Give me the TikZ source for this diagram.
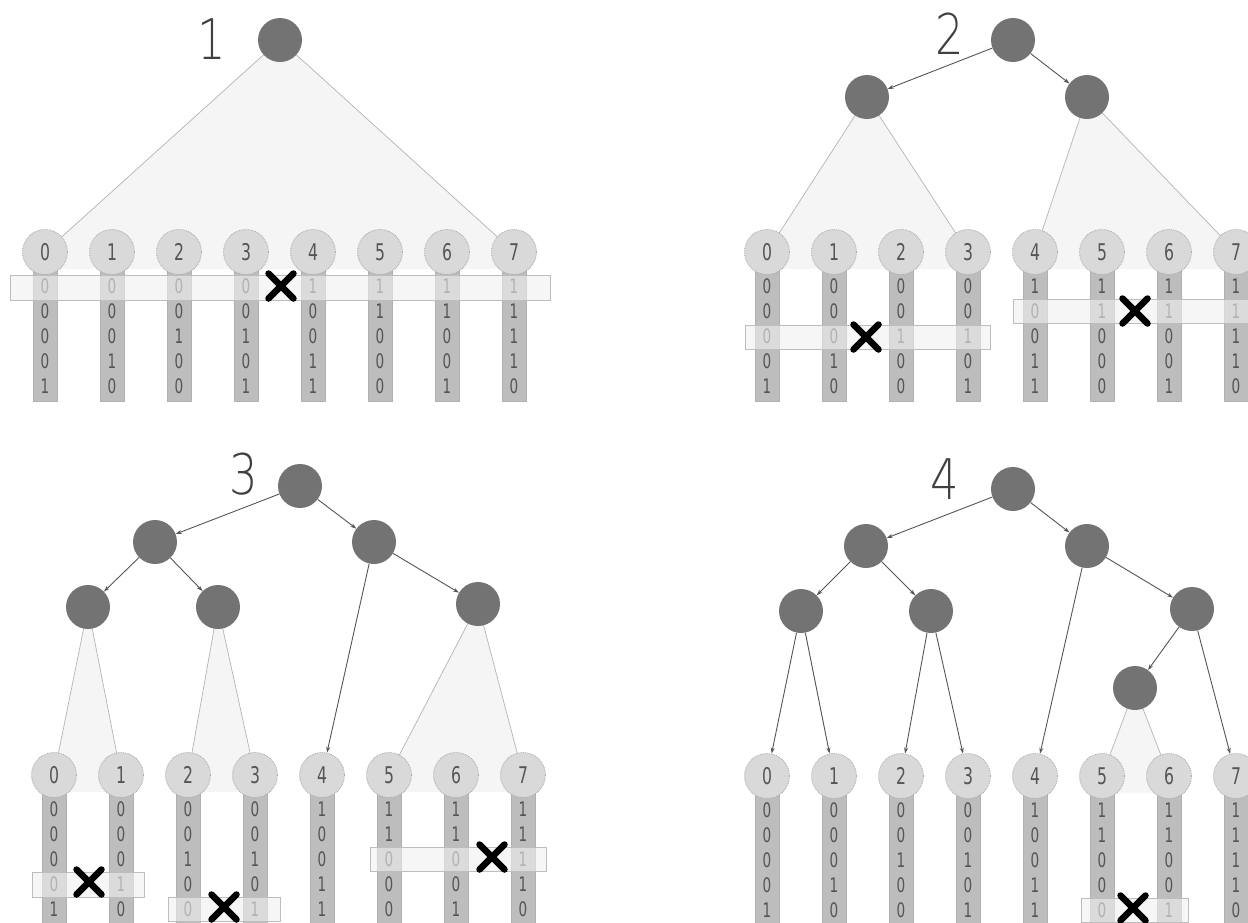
\documentclass[tikz,border=0pt]{standalone}
\usepackage{fontspec}
\usetikzlibrary{arrows.meta}
\setmainfont{DejaVu Sans}
\newfontfamily\digf{DejaVu Sans}[FakeStretch=0.68]
\IfFontExistsTF{DejaVuSans-ExtraLight.ttf}%
  {\newfontfamily\bigf{DejaVuSans-ExtraLight.ttf}[FakeStretch=0.8]}%
  {\newfontfamily\bigf{DejaVu Sans}[FakeStretch=0.8]}
\pgfdeclarelayer{bg}
\pgfsetlayers{bg,main}
\definecolor{nodegray}{HTML}{737373}
\definecolor{leafgray}{HTML}{D9D9D9}
\definecolor{leafline}{HTML}{A8A8A8}
\definecolor{barg}{HTML}{BDBDBD}
\definecolor{barline}{HTML}{B0B0B0}
\definecolor{txtg}{HTML}{555555}
\definecolor{trifill}{HTML}{F5F5F5}
\definecolor{triline}{HTML}{B4B4B4}
\definecolor{arrg}{HTML}{555555}
\definecolor{bandf}{HTML}{F0F0F0}
\definecolor{bandl}{HTML}{BDBDBD}
\tikzset{
  dark/.style={circle, fill=nodegray, minimum size=44pt, inner sep=0pt},
  leaf/.style={circle, fill=leafgray, draw=leafline, densely dotted, line width=0.8pt,
    minimum size=45pt, inner sep=0pt, font=\digf\fontsize{23}{23}\selectfont, text=txtg},
  bitnum/.style={inner sep=0pt, font=\digf\fontsize{20}{20}\selectfont, text=txtg},
  bar/.style={fill=barg, draw=barline, line width=0.6pt},
  arr/.style={draw=arrg, line width=0.9pt, -{Stealth[length=6pt,width=4pt]}},
  trif/.style={fill=trifill},
  triedge/.style={draw=triline, line width=0.7pt},
  band/.style={fill=bandf, fill opacity=0.6, draw=bandl, line width=0.8pt},
  xm/.style={line width=6.5pt, line cap=round, draw=black},
  lbl/.style={font=\bigf\fontsize{56}{56}\selectfont, text=black!75, inner sep=0pt}
}
\newcommand\leafset[4]{%
  \foreach \i/\a/\b/\c/\d/\e in {0/0/0/0/0/1,1/0/0/0/1/0,2/0/0/1/0/0,3/0/0/1/0/1,4/1/0/0/1/1,5/1/1/0/0/0,6/1/1/0/0/1,7/1/1/1/1/0}{%
    \pgfmathsetmacro\xx{#2+67*\i}%
    \filldraw[bar] (\xx-12,#3) rectangle (\xx+12,#4);%
    \foreach \r/\v in {0/\a,1/\b,2/\c,3/\d,4/\e}{\node[bitnum] (#1b\i\r) at (\xx,#3+34+25*\r) {\v};}%
    \node[leaf] (#1l\i) at (\xx,#3) {\i};%
  }}
\newcommand\tri[3]{%
  \begin{pgfonlayer}{bg}
    \fill[trif] (#1.center) -- (#2.center) -- ([yshift=-17pt]#2.center) -- ([yshift=-17pt]#3.center) -- (#3.center) -- cycle;
    \draw[triedge] (#2.center) -- (#1.center) -- (#3.center);
  \end{pgfonlayer}}
\newcommand\xmk[2]{\draw[xm] (#1-12.5,#2-12.5) -- (#1+12.5,#2+12.5) (#1-12.5,#2+12.5) -- (#1+12.5,#2-12.5);}
\begin{document}
\begin{tikzpicture}[x=1pt,y=-1pt]
\useasboundingbox (0,0) rectangle (1248,922);
\clip (0,0) rectangle (1248,922);
% ---------- panel 1
\leafset{p1}{45}{252}{401}
\node[dark] (p1r) at (280,40) {};
\node[lbl] (p1t) at (212,39) {1};
\tri{p1r}{p1l0}{p1l7}
\draw[band] (10,275) rectangle (550,300);
\xmk{281}{286}
% ---------- panel 2
\leafset{p2}{767}{252}{401}
\node[dark] (p2r) at (1013,40) {};
\node[dark] (p2a) at (867,97) {};
\node[dark] (p2b) at (1087,97) {};
\node[lbl] (p2t) at (950,34) {2};
\draw[arr] (p2r) -- (p2a);
\draw[arr] (p2r) -- (p2b);
\tri{p2a}{p2l0}{p2l3}
\tri{p2b}{p2l4}{p2l7}
\draw[band] (745,325) rectangle (990,349);
\draw[band] (1013,299) rectangle (1252,323);
\xmk{866}{337}
\xmk{1135}{311}
% ---------- panel 3
\leafset{p3}{54}{775}{930}
\node[dark] (p3r) at (300,486) {};
\node[dark] (p3a) at (155,542) {};
\node[dark] (p3b) at (374,542) {};
\node[dark] (p3c) at (88,607) {};
\node[dark] (p3d) at (218,607) {};
\node[dark] (p3e) at (478,604) {};
\node[lbl] (p3t) at (244,474) {3};
\draw[arr] (p3r) -- (p3a);
\draw[arr] (p3r) -- (p3b);
\draw[arr] (p3a) -- (p3c);
\draw[arr] (p3a) -- (p3d);
\draw[arr] (p3b) -- (p3l4);
\draw[arr] (p3b) -- (p3e);
\tri{p3c}{p3l0}{p3l1}
\tri{p3d}{p3l2}{p3l3}
\tri{p3e}{p3l5}{p3l7}
\draw[band] (32,872) rectangle (144,897);
\draw[band] (168,897) rectangle (280,921);
\draw[band] (370,847) rectangle (546,871);
\xmk{89}{882}
\xmk{224}{907}
\xmk{492}{857}
% ---------- panel 4
\leafset{p4}{767}{776}{930}
\node[dark] (p4r) at (1013,489) {};
\node[dark] (p4a) at (866,546) {};
\node[dark] (p4b) at (1087,546) {};
\node[dark] (p4c) at (801,611) {};
\node[dark] (p4d) at (931,611) {};
\node[dark] (p4e) at (1192,609) {};
\node[dark] (p4f) at (1135,688) {};
\node[lbl] (p4t) at (945,479) {4};
\draw[arr] (p4r) -- (p4a);
\draw[arr] (p4r) -- (p4b);
\draw[arr] (p4a) -- (p4c);
\draw[arr] (p4a) -- (p4d);
\draw[arr] (p4b) -- (p4l4);
\draw[arr] (p4b) -- (p4e);
\draw[arr] (p4c) -- (p4l0);
\draw[arr] (p4c) -- (p4l1);
\draw[arr] (p4d) -- (p4l2);
\draw[arr] (p4d) -- (p4l3);
\draw[arr] (p4e) -- (p4f);
\draw[arr] (p4e) -- (p4l7);
\tri{p4f}{p4l5}{p4l6}
\draw[band] (1081,898) rectangle (1188,922);
\xmk{1133}{908}
\end{tikzpicture}
\end{document}
